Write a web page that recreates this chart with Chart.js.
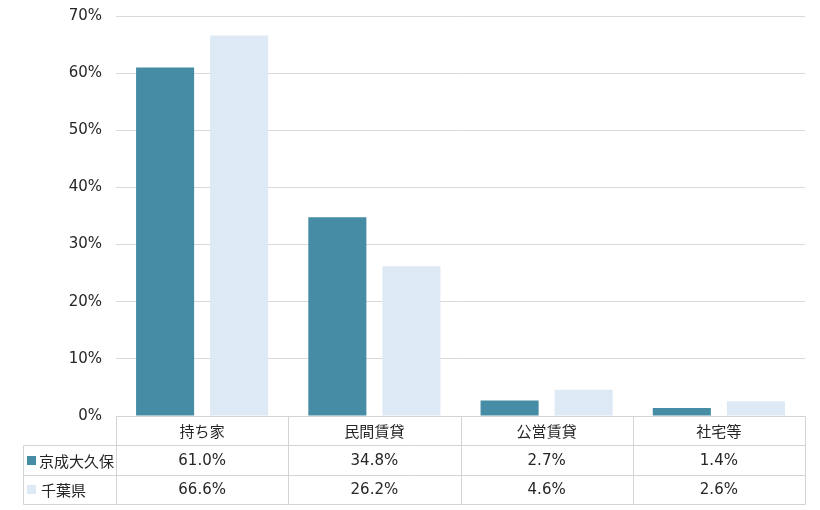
<!DOCTYPE html>
<html><head><meta charset="utf-8">
<script src="https://cdn.jsdelivr.net/npm/chart.js@4"></script>
<style>html,body{margin:0;padding:0;background:#fff}#wrap{width:820px;height:510px}</style>
</head><body><div id="wrap"><canvas id="c" width="820" height="510"></canvas></div>
<script>
const categories = ['持ち家', '民間賃貸', '公営賃貸', '社宅等'];
const seriesNames = ['京成大久保', '千葉県'];
const keiseiOkubo = [61.0, 34.8, 2.7, 1.4];
const chibaPref = [66.6, 26.2, 4.6, 2.6];
const yTicks = [0, 10, 20, 30, 40, 50, 60, 70];
const colors = ['#468CA5', '#DDE9F5'];
const FONT = '"DejaVu Sans", "Noto Sans CJK JP", sans-serif';
const CJK = '"Noto Sans CJK JP", sans-serif';
const TXT = '#262626';

const tablePlugin = {
  id: 'dataTable',
  afterDraw(chart) {
    const ctx = chart.ctx, xs = chart.scales.x, area = chart.chartArea;
    const n = categories.length;
    const cw = (area.right - area.left) / n;
    const rowH = 29.3;
    const top = area.bottom;
    const rows = [top, top + rowH, top + 2 * rowH, top + 3 * rowH];
    const legendLeft = 23;
    ctx.save();
    ctx.strokeStyle = '#d4d4d4';
    ctx.lineWidth = 1;
    const line = (x1, y1, x2, y2) => { ctx.beginPath(); ctx.moveTo(Math.round(x1)+0.5, Math.round(y1)+0.5); ctx.lineTo(Math.round(x2)+0.5, Math.round(y2)+0.5); ctx.stroke(); };
    line(area.left, rows[0], area.right, rows[0]);
    line(legendLeft, rows[1], area.right, rows[1]);
    line(legendLeft, rows[2], area.right, rows[2]);
    line(legendLeft, rows[3], area.right, rows[3]);
    for (let i = 0; i <= n; i++) {
      const xb = area.left + i * cw;
      line(xb, rows[0], xb, rows[3]);
    }
    line(legendLeft, rows[1], legendLeft, rows[3]);
    ctx.fillStyle = TXT;
    ctx.font = '15px ' + CJK;
    ctx.textAlign = 'center';
    ctx.textBaseline = 'middle';
    categories.forEach((c, i) => {
      ctx.fillText(c, xs.getPixelForValue(i), (rows[0] + rows[1]) / 2 + 1);
    });
    chart.data.datasets.forEach((ds, r) => {
      const yc = (rows[r + 1] + rows[r + 2]) / 2 + 1;
      ctx.font = '15px ' + FONT;
      ds.data.forEach((v, i) => {
        ctx.fillStyle = TXT;
        ctx.textAlign = 'center';
        ctx.fillText(v.toFixed(1) + '%', xs.getPixelForValue(i), yc);
      });
      ctx.fillStyle = ds.backgroundColor;
      ctx.fillRect(27, Math.round(yc) - 5, 9, 9);
      ctx.fillStyle = TXT;
      ctx.textAlign = 'left';
      ctx.font = '15px ' + CJK;
      ctx.fillText(ds.label, r === 0 ? 39 : 41, yc);
    });
    ctx.restore();
  }
};

new Chart(document.getElementById('c'), {
  type: 'bar',
  data: {
    labels: categories,
    datasets: [
      { label: seriesNames[0], data: keiseiOkubo, backgroundColor: colors[0] },
      { label: seriesNames[1], data: chibaPref, backgroundColor: colors[1] }
    ]
  },
  options: {
    responsive: false,
    animation: false,
    devicePixelRatio: 1,
    layout: { padding: { left: 0, right: 15, top: 16, bottom: 94 } },
    categoryPercentage: 0.86,
    barPercentage: 0.784,
    plugins: { legend: { display: false }, tooltip: { enabled: false } },
    scales: {
      x: { display: false },
      y: {
        min: 0, max: 70,
        afterFit(s) { s.width = 116; s.paddingTop = 0; s.paddingBottom = 0; },
        afterBuildTicks(s) { s.ticks = yTicks.map(v => ({ value: v })); },
        ticks: { padding: 14, color: TXT, font: { size: 15, family: FONT }, callback: v => v + '%' },
        grid: { color: '#d9d9d9', drawTicks: false },
        border: { display: false }
      }
    }
  },
  plugins: [tablePlugin]
});
</script></body></html>
